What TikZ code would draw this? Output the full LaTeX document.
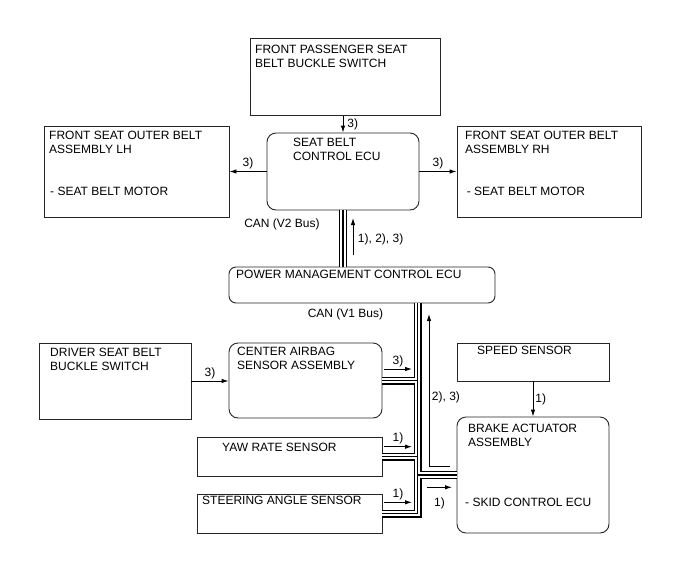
\documentclass[tikz,border=0pt]{standalone}
\usepackage{fontspec}
\setmainfont{Liberation Sans}
\usetikzlibrary{arrows.meta}

\begin{document}
\begin{tikzpicture}[x=1pt,y=-1pt,font=\fontsize{12}{14}\selectfont,
  box/.style={draw=black!85,line width=.9pt,inner sep=0},
  txt/.style={anchor=base west,align=left,inner sep=0},
  arr/.style={-{Latex[length=7pt,width=4.5pt]},line width=.9pt},
  lab/.style={inner sep=2pt}]
  \useasboundingbox (0,0) rectangle (688,560);

  \foreach \name/\x/\y/\w/\h/\r in {
    pass/345/76.8/190/77/0,lh/136.5/171.5/185/91/0,rh/549/171.5/184/91/0,
    sbecu/343/171.5/152/77/9,pmc/362/285/266/36/7,
    drv/115/381/152/76/0,casa/305.5/380.5/153/75/9,
    speed/533/362/152/38/0,brake/533/475/152/116/9,
    yaw/289.5/456.5/185/39/0,steer/289.5/513.5/185/39/0}
    \node[box,minimum width=\w pt,minimum height=\h pt,rounded corners=\r pt] (\name) at (\x,\y) {};

  % base of a two-line text = its last line
  \foreach \x/\y/\t [count=\i] in {
    255/67.3/{FRONT PASSENGER SEAT\\BELT BUCKLE SWITCH},
    49/153.3/{FRONT SEAT OUTER BELT\\ASSEMBLY LH},50/195.3/{- SEAT BELT MOTOR},
    465/153.3/{FRONT SEAT OUTER BELT\\ASSEMBLY RH},466.7/195.3/{- SEAT BELT MOTOR},
    293/160/{SEAT BELT\\CONTROL ECU},236/278.6/{POWER MANAGEMENT CONTROL ECU},
    50/370.3/{DRIVER SEAT BELT\\BUCKLE SWITCH},237/369.3/{CENTER AIRBAG\\SENSOR ASSEMBLY},
    477/354.3/{SPEED SENSOR},468/446.3/{BRAKE ACTUATOR\\ASSEMBLY},
    465/506.3/{- SKID CONTROL ECU},222/451.3/{YAW RATE SENSOR},
    202/504.3/{STEERING ANGLE SENSOR}}
    \node[txt] (txt\i) at (\x,\y) {\t};

  % CAN buses
  \coordinate (trunk) at ([xshift=55.5pt]pmc.south);
  \foreach \lw/\c in {8/black,5.6/white,1.2/black}
    \draw[line width=\lw pt,draw=\c,line join=miter]
      (sbecu.south) -- (sbecu.south |- pmc.north)
      (steer.east) -| (trunk)
      (casa.east) -- (casa.east -| trunk)
      (yaw.east) -- (yaw.east -| trunk)
      (trunk |- brake.west) -- (brake.west);
  \node[lab] (can2) at (282,224.5) {CAN (V2 Bus)};
  \node[lab] (can1) at (345.5,314.5) {CAN (V1 Bus)};

  % signals
  \draw[arr] (sbecu.north |- pass.south) -- node[lab,right=2pt] (l1) {3)} (sbecu.north);
  \draw[arr] (sbecu.west) -- node[lab,above] (l2) {3)} (lh.east);
  \draw[arr] (sbecu.east) -- node[lab,above] (l3) {3)} (rh.west);
  \draw[arr] (drv.east) -- node[lab,above] (l4) {3)} (drv.east -| casa.west);
  \draw[arr] (speed.south) -- node[lab,right] (l5) {1)} (brake.north);

  \coordinate (v2a) at (353,255);
  \coordinate (v2b) at (353,218);
  \draw[arr] (v2a) -- node[lab,right=2.5pt,pos=.42] (l6) {1), 2), 3)} (v2b);

  \foreach \n/\y/\t in {casa/369/3),yaw/446.7/1),steer/502.3/1)} {
    \coordinate (\n0) at (384,\y);
    \coordinate (\n1) at (412,\y);
    \draw[arr] (\n0) -- node[lab,above] (l\n) {\t} (\n1);
  }

  \coordinate (bk0) at (427,487.3);
  \coordinate (bk1) at (452,487.3);
  \draw[arr] (bk0) -- node[lab,below=8pt] (lbk) {1)} (bk1);

  \coordinate (rt0) at (450,466);
  \coordinate (rt1) at (429,314);
  \draw[arr] (rt0) -| node[lab,right=.5pt,pos=.725] (lrt) {2), 3)} (rt1);
\end{tikzpicture}
\end{document}
